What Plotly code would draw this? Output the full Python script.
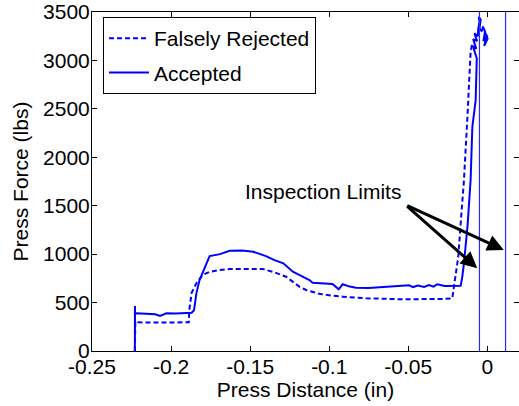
import plotly.graph_objects as go

# ---- data ----
x_rejected = [-0.2229, -0.2229, -0.2226, -0.2228, -0.215, -0.205, -0.196, -0.1888, -0.1885, -0.1870,
              -0.1840, -0.1800, -0.1760, -0.1700, -0.1630, -0.1550, -0.1480, -0.1420, -0.1357, -0.1273,
              -0.1189, -0.1146, -0.1062, -0.0990, -0.0915, -0.0840, -0.0768, -0.0650, -0.0558, -0.0450,
              -0.0348, -0.0280, -0.0222, -0.0200, -0.0184, -0.0165, -0.0148, -0.0125, -0.0106, -0.0095]
y_rejected = [0, 200, 300, 296, 294, 292, 294, 296, 420, 600,
              700, 784, 815, 835, 846, 848, 848, 846, 818, 767,
              665, 630, 590, 572, 561, 552, 544, 540, 534, 535,
              534, 538, 544, 767, 973, 1400, 1765, 2450, 3089, 3180]

x_accepted = [-0.2229, -0.2230, -0.2228, -0.2231, -0.2227, -0.2229, -0.2220, -0.2150, -0.2100, -0.2070,
              -0.2030, -0.1970, -0.1920, -0.1870, -0.1855, -0.1840, -0.1820, -0.1790, -0.1767, -0.1756,
              -0.1720, -0.1690, -0.1630, -0.1550, -0.1480, -0.1400, -0.1350, -0.1290, -0.1230, -0.1189,
              -0.1125, -0.1105, -0.1040, -0.0979, -0.0940, -0.0915, -0.0870, -0.0831, -0.0750, -0.0663,
              -0.0580, -0.0495, -0.0470, -0.0440, -0.0400, -0.0370, -0.0340, -0.0317, -0.0270, -0.0211,
              -0.0169, -0.0159, -0.0148, -0.0125, -0.0106, -0.0095, -0.0074, -0.0067,
              -0.0080, -0.0092, -0.0070, -0.0090, -0.0065, -0.0082, -0.0060, -0.0058, -0.0050, -0.0055,
              -0.0042, -0.0050, -0.0035, -0.0028, -0.0015, -0.0025, -0.0005, -0.0020, 0.0003, -0.0010,
              0.0002, -0.0018, 0.0001]
y_accepted = [0, 250, 464, 330, 440, 389, 390, 388, 380, 362,
              390, 388, 392, 395, 420, 595, 733, 860, 939, 980,
              990, 1000, 1035, 1038, 1025, 980, 940, 905, 818, 785,
              733, 705, 700, 692, 637, 689, 665, 654, 650, 657,
              665, 678, 660, 675, 662, 680, 665, 689, 672, 671,
              674, 760, 905, 1300, 1765, 2315, 2590, 3022,
              3100, 3150, 3120, 3220, 3200, 3280, 3250, 3320, 3400, 3450,
              3420, 3330, 3300, 3350, 3300, 3200, 3250, 3150, 3230, 3280,
              3220, 3300, 3240]

inspection_limits = [-0.0050, 0.0115]

x_tickvals = [-0.25, -0.2, -0.15, -0.1, -0.05, 0]
x_ticktext = ["-0.25", "-0.2", "-0.15", "-0.1", "-0.05", "0"]
y_tickvals = [0, 500, 1000, 1500, 2000, 2500, 3000, 3500]
y_ticktext = ["0", "500", "1000", "1500", "2000", "2500", "3000", "3500"]

FONT = "Arial, Liberation Sans, sans-serif"
FS = 21

fig = go.Figure()
fig.add_trace(go.Scatter(x=x_rejected, y=y_rejected, mode="lines", name="Falsely Rejected",
                         legendgroup="a",
                         line=dict(color="#0000ff", width=2, dash="5px,3px")))
fig.add_trace(go.Scatter(x=x_accepted, y=y_accepted, mode="lines", name="Accepted",
                         legendgroup="b",
                         line=dict(color="#0000ff", width=2)))

for xv in inspection_limits:
    fig.add_shape(type="line", xref="x", yref="paper", x0=xv, x1=xv, y0=0, y1=1,
                  line=dict(color="#2a2aff", width=1.2))

# annotation text + arrows
tail_x, tail_y = -0.0516, 1507
fig.add_annotation(x=-0.1039, y=1645, xref="x", yref="y", text="Inspection Limits",
                   showarrow=False, font=dict(family=FONT, size=FS, color="black"))
for hx, hy in [(-0.0064, 854), (0.0104, 1043)]:
    fig.add_annotation(x=hx, y=hy, xref="x", yref="y", ax=tail_x, ay=tail_y,
                       axref="x", ayref="y", text="", showarrow=True,
                       arrowhead=2, arrowsize=1.1, arrowwidth=3, arrowcolor="black", standoff=0)

fig.update_layout(
    width=519, height=406,
    margin=dict(l=92, r=0, t=12, b=55),
    paper_bgcolor="white", plot_bgcolor="white",
    font=dict(family=FONT, size=FS, color="black"),
    showlegend=True,
    legend=dict(x=0.0258, y=0.985, xanchor="left", yanchor="top",
                bordercolor="black", borderwidth=1, bgcolor="white",
                itemwidth=40, tracegroupgap=4, traceorder="grouped",
                font=dict(family=FONT, size=FS, color="black")),
    xaxis=dict(range=[-0.25, 0.02], tickvals=x_tickvals, ticktext=x_ticktext,
               showgrid=False, zeroline=False, showline=True, linecolor="black", linewidth=1,
               mirror="ticks", ticks="inside", ticklen=5, tickcolor="black",
               ticklabelstandoff=-3,
               title=dict(text="Press Distance (in)", standoff=4,
                          font=dict(family=FONT, size=FS, color="black"))),
    yaxis=dict(range=[0, 3500], tickvals=y_tickvals, ticktext=y_ticktext,
               showgrid=False, zeroline=False, showline=True, linecolor="black", linewidth=1,
               mirror="ticks", ticks="inside", ticklen=5, tickcolor="black",
               ticklabelstandoff=-3,
               title=dict(text="Press Force (lbs)", standoff=8,
                          font=dict(family=FONT, size=FS, color="black"))),
)

fig.write_html("out.html")
